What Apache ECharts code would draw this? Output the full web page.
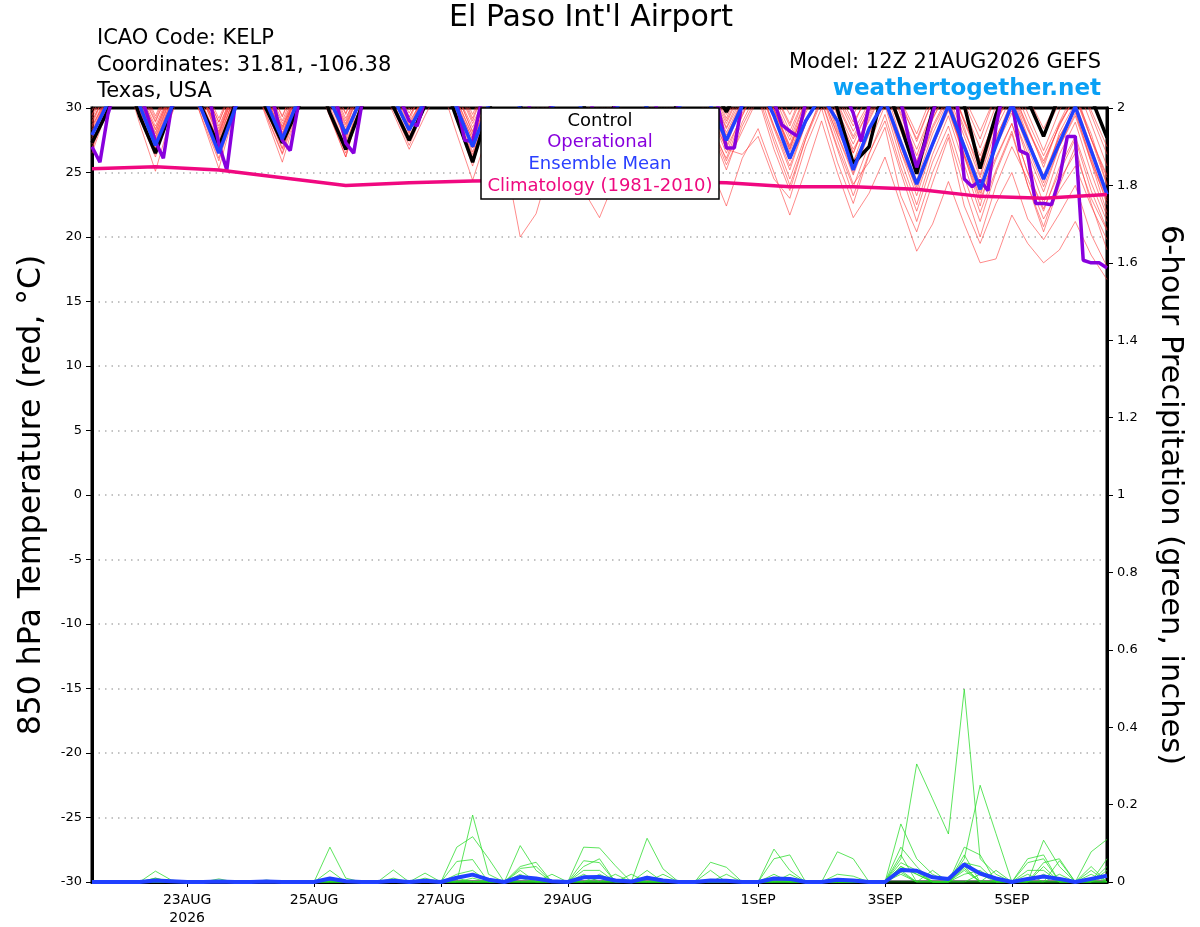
<!DOCTYPE html>
<html><head><meta charset="utf-8">
<script src="https://cdn.jsdelivr.net/npm/echarts@6/dist/echarts.min.js"></script>
<style>html,body{margin:0;padding:0;background:#fff}#c{width:1200px;height:927px}</style>
</head><body><div id="c"></div>
<script>
// ---------- axis ticks ----------
const tickHours = [48, 96, 144, 192, 264, 312, 360];            // hours after 00Z 21AUG2026
const tickLabels = ['23AUG\n2026', '25AUG', '27AUG', '29AUG', '1SEP', '3SEP', '5SEP'];

// valid times (hours after 00Z 21AUG2026): 12Z 21AUG .. 12Z 6SEP
const hours6 = []; for (let h = 12; h <= 396; h += 6) hours6.push(h);
const hours3 = []; for (let h = 12; h <= 396; h += 3) hours3.push(h);
const climHours = []; for (let h = 12; h <= 396; h += 24) climHours.push(h);

// ---------- 850 hPa temperature, ensemble members (6-hourly, deg C) ----------
const member01 = [28.5, 31.2,33.5,30.4,27.8, 31.0,33.8,30.8,28.2, 31.5,34.0,31.0,28.6, 31.2,33.6,30.5,27.5, 31.6,34.2,31.2,28.9, 31.0,33.4,30.6,27.8, 31.4,33.9,30.9,28.4, 31.1,33.5,30.6,28.0, 30.9,33.2,30.3,27.6, 30.6,33.0,30.1,27.0, 30.4,32.8,29.9,26.8, 30.2,32.5,29.6,26.5, 29.6,32.0,29.0,25.6, 29.2,31.5,28.5,24.8, 29.0,31.4,28.6,25.4, 28.8,30.9,28.0,24.1];
const member02 = [29.2, 31.8,34.1,31.2,28.6, 31.5,33.6,30.2,27.4, 31.0,33.7,30.9,27.9, 31.6,34.0,31.4,28.8, 32.0,34.5,31.6,29.3, 31.8,34.0,31.1,28.5, 31.2,33.4,30.4,27.6, 31.3,33.8,31.0,28.8, 31.4,33.6,30.7,28.2, 31.2,33.5,31.0,28.4, 30.8,33.2,30.2,27.5, 30.6,32.9,29.8,27.2, 30.0,32.5,29.4,26.3, 29.8,32.1,29.1,25.9, 29.0,31.2,27.8,24.2, 28.1,30.4,27.0,23.5];
const member03 = [27.6, 30.6,33.0,29.9,26.9, 30.4,32.8,29.6,26.5, 30.2,33.1,30.0,27.2, 30.6,33.2,30.1,27.0, 31.0,33.6,30.8,28.1, 30.8,33.1,30.2,26.9, 30.9,33.4,30.6,27.9, 31.0,33.3,30.4,27.5, 31.2,33.6,30.9,28.6, 30.5,32.6,29.4,26.5, 29.6,31.8,28.4,25.2, 28.8,31.2,27.9,24.8, 28.0,30.6,27.0,23.6, 27.2,30.0,26.3,22.4, 27.0,29.6,26.5,23.5, 27.0,29.4,25.8,22.8];
const member04 = [29.8, 32.2,34.6,31.8,29.2, 32.0,34.5,31.6,28.9, 32.1,34.8,32.0,29.3, 32.4,35.0,32.2,29.5, 32.6,35.1,32.3,29.9, 32.5,34.8,32.0,29.2, 32.3,34.9,32.2,29.5, 32.5,35.0,32.3,29.4, 32.4,34.8,32.1,29.8, 32.2,34.6,31.9,29.2, 32.1,34.5,31.8,29.5, 31.9,34.0,31.0,28.6, 31.4,33.6,30.5,27.4, 30.6,33.0,29.9,26.9, 30.2,32.6,29.6,26.7, 29.8,32.0,28.8,25.5];
const member05 = [26.8, 30.2,32.9,28.8,25.1, 29.4,32.6,28.9,25.3, 29.8,32.8,29.2,25.8, 29.9,32.9,29.4,26.2, 30.4,33.2,30.0,27.4, 30.3,32.8,29.1,25.5, 29.8,32.6,29.6,26.5, 30.2,32.9,29.9,27.0, 30.0,32.4,29.1,26.2, 29.4,31.9,28.4,25.2, 28.6,31.0,27.4,24.0, 27.6,30.5,26.8,23.2, 26.5,29.0,25.0,21.2, 25.0,28.0,23.8,20.0, 24.0,27.0,24.5,21.4, 23.6,25.5,22.4,19.8];
const member06 = [28.1, 31.0,33.6,30.6,28.0, 31.2,33.7,30.6,27.8, 30.8,33.2,29.8,26.9, 30.7,33.5,30.8,27.9, 31.3,33.8,30.9,28.4, 31.0,33.3,30.2,27.2, 31.2,33.9,31.0,28.8, 31.6,33.9,31.2,28.5, 31.0,33.4,30.6,27.9, 30.9,33.3,30.5,27.9, 30.3,32.4,29.2,26.2, 29.8,32.1,29.0,25.8, 29.2,31.6,28.4,24.9, 28.4,30.8,27.2,23.6, 27.5,29.8,26.0,22.6, 26.4,28.9,25.0,21.6];
const member07 = [27.2, 30.4,33.0,29.6,26.4, 30.0,32.7,29.3,26.1, 30.3,33.1,30.6,27.8, 30.9,33.2,29.8,26.5, 30.2,32.8,29.9,27.1, 30.0,32.6,29.4,26.2, 30.1,32.8,30.0,27.2, 30.3,32.7,29.7,26.4, 30.1,32.9,30.2,27.2, 30.4,32.6,29.8,26.8, 26.4,27.8,24.5,23.0, 27.0,30.0,25.8,22.6, 26.4,29.5,25.4,22.0, 25.8,28.6,24.6,21.2, 25.0,28.0,24.0,20.8, 24.4,26.5,23.0,20.5];
const member08 = [28.9, 31.6,34.0,31.2,28.3, 31.4,34.1,31.4,28.6, 31.4,33.8,30.7,28.1, 31.2,33.9,31.0,28.3, 31.9,34.5,31.9,29.6, 32.0,34.2,31.1,28.1, 31.7,34.3,31.6,29.1, 32.0,34.4,31.7,29.2, 31.9,34.2,31.4,28.9, 31.8,34.0,31.3,28.8, 31.5,33.7,30.9,28.2, 31.0,33.4,30.4,27.8, 30.2,32.4,28.6,25.6, 29.1,31.6,28.2,25.4, 28.9,31.2,28.3,25.7, 28.7,30.8,27.6,24.8];
const member09 = [26.5, 30.0,32.8,30.0,27.2, 30.6,33.0,30.1,27.0, 30.2,32.6,29.5,26.5, 30.4,33.0,30.4,27.4, 30.2,32.4,29.6,26.8, 29.4,31.8,28.0,24.4, 28.2,26.5,20.0,21.8, 26.0,29.4,27.8,25.0, 29.2,31.6,29.6,26.6, 28.9,29.8,25.4,22.4, 26.1,28.4,25.0,21.7, 25.2,29.0,25.0,21.5, 23.4,26.2,22.5,18.9, 21.0,24.3,21.0,18.0, 18.3,21.7,19.5,18.0, 19.0,21.2,18.6,16.7];
const member10 = [28.3, 31.2,33.8,30.6,27.5, 30.9,33.4,30.8,27.9, 31.3,33.9,31.0,28.3, 31.5,34.0,31.2,28.7, 31.6,34.1,31.2,28.7, 31.2,33.6,30.4,27.5, 31.0,33.5,30.6,28.1, 30.5,29.0,23.6,21.5, 24.5,28.0,26.4,25.8, 29.1,31.5,28.4,26.1, 29.4,32.0,28.6,25.5, 28.8,31.0,28.0,25.0, 28.2,30.6,27.4,24.2, 27.0,29.8,26.2,22.9, 26.0,28.8,25.0,22.0, 25.4,27.8,24.2,21.2];
const member11 = [29.5, 32.0,34.4,31.5,29.0, 31.8,34.2,31.2,28.4, 31.6,34.3,31.6,29.0, 32.0,34.4,31.6,29.0, 32.1,34.5,31.6,29.0, 32.0,34.5,31.8,29.0, 32.2,34.7,32.0,29.7, 32.4,34.8,32.1,29.6, 32.2,34.6,31.8,29.3, 32.0,34.5,31.9,29.5, 31.8,34.2,31.3,28.8, 31.9,34.3,31.8,29.5, 31.6,33.8,30.6,28.0, 31.1,33.6,30.8,28.2, 31.0,33.4,30.4,27.9, 30.4,32.8,29.5,26.4];
const member12 = [27.9, 30.8,33.4,30.4,27.4, 30.6,33.1,30.1,27.1, 30.7,33.3,30.4,27.5, 30.9,33.5,30.6,27.7, 31.2,33.7,30.8,28.2, 30.6,32.9,29.6,26.6, 30.1,32.7,29.8,26.8, 30.6,33.2,30.9,27.9, 30.8,33.0,30.0,27.1, 30.6,33.1,30.3,27.4, 30.4,32.8,29.8,26.8, 30.2,32.6,29.6,26.8, 29.0,31.6,27.6,24.4, 28.0,30.6,27.2,24.2, 27.8,30.2,26.9,23.9, 27.0,29.6,26.0,23.0];
const member13 = [28.7, 31.6,34.0,31.4,28.9, 31.8,34.2,31.6,28.9, 31.8,34.1,31.4,28.8, 31.6,34.0,31.2,28.5, 31.8,34.3,31.7,29.3, 31.6,34.0,31.0,28.2, 31.5,34.0,31.1,28.6, 31.6,34.0,31.2,28.5, 31.4,33.9,31.2,28.4, 31.5,34.0,31.3,28.5, 31.2,33.6,30.6,27.8, 31.0,33.5,30.8,28.2, 30.4,32.8,29.6,26.8, 29.8,32.2,28.9,25.9, 29.6,32.0,29.0,26.3, 28.9,31.4,27.6,24.0];
const member14 = [27.4, 30.2,32.6,29.2,26.2, 30.0,32.8,29.9,26.7, 30.0,32.5,29.4,26.4, 29.9,32.4,29.3,26.2, 30.6,33.2,30.4,27.8, 30.2,32.4,29.0,25.8, 30.0,32.9,30.2,27.5, 30.4,32.6,29.8,26.9, 30.0,32.6,29.5,26.4, 29.6,32.1,29.0,25.9, 28.9,31.4,27.8,24.5, 27.9,30.6,27.0,23.9, 27.2,30.2,26.0,22.5, 26.4,29.4,25.6,21.9, 25.2,28.2,24.0,20.4, 24.0,27.0,22.6,19.0];
const member15 = [29.0, 31.4,33.8,30.8,28.1, 31.2,33.8,30.9,28.1, 31.4,34.0,31.2,28.5, 31.8,34.4,31.8,29.2, 31.8,34.0,31.0,28.5, 31.2,33.6,30.6,27.9, 31.4,34.0,31.5,28.9, 31.6,33.9,31.0,28.2, 31.6,34.1,31.7,29.0, 31.2,33.4,30.3,27.7, 30.6,33.0,29.9,27.0, 30.1,32.6,29.4,26.5, 29.4,31.8,28.2,25.1, 28.6,31.0,27.8,24.6, 28.4,30.9,27.6,24.8, 27.8,30.0,26.2,22.5];
const member16 = [28.0, 31.0,33.5,30.6,27.7, 30.9,33.4,30.6,27.6, 31.0,33.6,30.8,27.9, 31.2,33.8,31.0,28.2, 31.2,33.6,30.8,28.0, 31.5,34.0,31.6,28.8, 31.2,33.5,30.5,27.6, 30.8,33.2,30.3,27.4, 31.0,33.6,30.9,28.0, 31.1,33.6,30.9,28.1, 30.6,32.8,29.6,26.6, 29.6,32.0,28.4,25.4, 28.4,30.8,26.6,23.2, 27.0,30.0,26.4,23.1, 27.6,30.6,27.6,24.5, 27.8,29.8,25.8,21.9];
const member17 = [26.9, 30.2,32.8,29.8,26.6, 29.8,32.4,29.0,25.9, 29.9,32.8,29.8,26.8, 30.2,32.8,29.9,26.9, 30.4,33.0,30.2,27.6, 30.2,32.6,29.4,26.4, 29.8,32.3,29.3,26.2, 29.6,32.2,29.2,26.1, 30.0,32.6,29.8,26.9, 29.6,31.8,28.6,25.6, 28.2,30.8,26.8,23.6, 27.6,31.0,27.5,24.1, 25.8,28.5,23.2,20.4, 24.2,27.7,22.4,19.5, 22.6,25.0,21.4,19.8, 21.8,24.0,20.2,17.7];
const member18 = [29.4, 32.2,34.7,32.0,29.4, 32.1,34.6,31.8,29.2, 32.0,34.6,31.9,29.4, 32.2,34.8,32.1,29.6, 32.6,35.2,32.6,30.2, 32.6,35.0,32.2,29.5, 32.4,35.0,32.3,29.8, 32.6,35.1,32.4,29.8, 32.4,34.9,32.0,29.5, 32.0,34.5,31.6,29.0, 31.6,34.0,31.2,28.6, 31.6,34.2,31.4,28.9, 31.0,33.4,30.2,27.6, 30.6,33.2,30.4,27.6, 31.0,33.6,30.9,28.4, 30.8,33.0,29.8,27.0];
const member19 = [28.6, 30.8,33.2,29.8,27.1, 30.4,33.0,30.1,27.3, 30.6,33.2,30.4,27.7, 30.9,33.4,30.6,27.9, 31.2,33.8,30.8,28.6, 30.6,32.9,29.8,26.9, 30.4,33.0,30.2,27.4, 30.9,33.4,30.8,28.3, 30.8,33.1,30.2,27.6, 30.2,32.6,29.4,26.9, 29.4,31.9,28.6,25.9, 29.0,31.6,28.2,25.9, 28.0,30.4,26.6,23.9, 27.4,30.1,26.4,23.4, 26.2,28.8,25.0,22.2, 25.0,27.6,23.6,20.6];
const member20 = [27.8, 31.0,33.6,30.9,28.4, 31.2,33.5,30.8,28.0, 31.2,33.8,31.0,28.4, 31.2,33.6,30.8,28.0, 30.6,33.0,30.2,27.5, 30.6,33.1,30.2,27.6, 30.4,32.8,29.9,27.0, 30.4,32.9,30.1,27.3, 30.8,33.4,30.8,28.3, 30.9,33.2,30.4,27.5, 30.5,32.8,29.9,27.1, 30.6,33.1,30.2,27.6, 29.8,32.2,28.8,25.9, 29.4,32.0,29.0,26.3, 29.2,31.6,28.4,25.9, 28.6,31.0,27.6,24.6];
const members = [member01, member02, member03, member04, member05, member06, member07, member08, member09, member10,
                 member11, member12, member13, member14, member15, member16, member17, member18, member19, member20];

// control run (6-hourly)
const controlTemp = [27.3, 29.8,33.0,29.4,26.5, 29.9,33.2,29.8,27.0, 30.2,33.0,29.9,27.3, 30.0,33.0,29.6,26.8, 30.1,33.2,30.1,27.5, 30.2,32.6,29.2,25.8, 29.8,32.8,30.2,27.0, 30.4,33.0,30.2,27.5, 30.4,33.0,30.0,27.2, 30.8,33.5,31.8,29.7, 32.0,34.0,32.0,30.5, 32.6,33.4,29.9,25.7, 27.0,32.0,28.6,24.9, 29.8,32.4,30.2,25.3, 29.5,32.6,30.6,27.8, 31.0,33.2,30.8,27.7];
// ensemble mean (6-hourly)
const meanTemp = [27.9, 30.4,32.6,30.2,27.1, 30.0,32.4,29.6,26.5, 29.9,32.6,30.4,27.6, 30.6,32.8,30.6,28.0, 30.8,33.0,30.8,28.3, 30.6,32.6,30.0,27.0, 30.2,32.4,30.0,27.2, 30.0,32.2,29.6,26.8, 29.8,32.2,30.0,27.2, 30.0,32.2,30.2,27.5, 30.2,32.0,29.4,26.1, 29.0,31.0,29.0,25.2, 28.4,30.6,27.3,24.1, 27.2,30.2,27.0,23.7, 27.1,30.3,27.4,24.5, 27.3,30.1,26.7,23.3];
// operational run (3-hourly)
const operationalTemp = [
  27.0, 25.8, 29.5, 31.6, 33.2, 32.8, 31.2, 29.4,
  27.4, 26.1, 30.0, 31.8, 33.4, 33.0, 31.4, 30.2,
  27.2, 25.2, 30.0, 32.0, 33.6, 33.2, 31.6, 30.1,
  27.5, 26.7, 30.2, 32.0, 33.5, 33.0, 31.5, 30.0,
  27.3, 26.5, 30.2, 32.2, 33.8, 33.2, 31.6, 30.5,
  29.0, 28.6, 30.6, 32.4, 33.8, 33.2, 30.4, 27.5,
  27.4, 30.2, 31.8, 33.0, 33.6, 33.0, 31.6, 30.5,
  27.8, 27.6, 30.5, 32.2, 33.6, 33.2, 31.5, 30.3,
  27.5, 27.4, 30.4, 32.0, 33.4, 33.0, 31.6, 30.5,
  27.9, 27.6, 30.6, 32.2, 33.6, 33.0, 31.8, 30.0,
  26.9, 26.9, 30.5, 32.2, 33.4, 32.8, 30.5, 28.7,
  28.2, 27.8, 30.4, 32.0, 33.2, 32.6, 31.6, 31.0,
  29.6, 27.4, 30.2, 32.0, 33.4, 32.8, 30.5, 27.6,
  25.4, 27.2, 29.6, 31.5, 33.0, 31.0, 24.5, 23.9,
  24.4, 23.6, 28.6, 31.5, 30.6, 26.7, 26.4, 22.6,
  22.6, 22.5, 24.5, 27.8, 27.8, 18.2, 18.0, 18.0,
  17.6];
// climatology 1981-2010 (daily, 12Z)
const climatologyTemp = [25.3, 25.45, 25.2, 24.6, 24.0, 24.2, 24.35, 24.4, 24.35, 24.3, 24.2, 23.9, 23.9, 23.7, 23.15, 23.0, 23.3];

// ---------- 6-hour precipitation (inches), 6-hourly ----------
const precip01 = [0, 0,0,0,0.028, 0.005,0,0,0, 0,0,0,0, 0,0,0,0, 0,0,0,0, 0,0,0,0.173, 0.02,0,0,0, 0,0,0,0, 0,0,0,0, 0,0,0,0, 0,0,0,0, 0,0,0,0, 0,0,0.06,0.305, 0.215,0.124,0.498,0.06, 0.02,0,0,0, 0,0,0,0];
const precip02 = [0, 0,0,0,0, 0,0,0,0, 0,0,0,0, 0,0,0.09,0.01, 0,0,0,0, 0,0,0.09,0.117, 0.061,0,0,0, 0,0,0,0, 0,0,0,0, 0,0,0,0, 0,0,0.085,0.03, 0,0,0,0, 0,0,0,0, 0,0,0.06,0.25, 0.125,0,0,0, 0,0,0,0];
const precip03 = [0, 0,0,0,0, 0,0,0,0, 0,0,0,0, 0,0,0.03,0, 0,0,0.031,0, 0,0,0.053,0.058, 0,0,0.094,0.03, 0,0,0,0, 0,0,0.113,0.034, 0,0,0,0, 0,0,0,0, 0,0,0,0, 0,0,0.15,0.06, 0.02,0,0,0, 0,0,0,0.108, 0.04,0,0,0];
const precip04 = [0, 0,0,0,0, 0,0,0,0, 0,0,0,0, 0,0,0,0, 0,0,0,0, 0.023,0,0,0, 0,0,0.04,0.051, 0,0,0.09,0.088, 0.042,0,0,0, 0,0,0,0, 0,0,0,0, 0,0,0.078,0.06, 0,0,0.09,0.04, 0,0,0,0, 0,0,0.06,0.07, 0,0,0.078,0.11];
const precip05 = [0, 0,0,0,0.01, 0,0,0,0, 0,0,0,0, 0,0,0.01,0, 0,0,0,0, 0,0,0,0, 0,0,0.03,0, 0,0,0.055,0.05, 0,0,0,0, 0,0,0.051,0.038, 0,0,0.06,0.07, 0,0,0,0, 0,0,0.07,0, 0,0,0.09,0.07, 0,0,0,0, 0.055,0,0,0.06];
const precip06 = [0, 0,0,0,0, 0,0,0,0.008, 0,0,0,0, 0,0,0,0, 0,0,0,0, 0.01,0,0,0, 0,0,0.035,0.04, 0,0,0.04,0.06, 0,0.02,0,0, 0,0,0.03,0, 0,0,0,0, 0,0,0,0, 0,0,0.05,0.03, 0,0,0.07,0, 0,0,0.05,0.06, 0,0,0.04,0];
const precip07 = [0, 0,0,0,0, 0,0,0,0, 0,0,0,0, 0,0,0,0, 0,0,0.01,0, 0,0,0.01,0, 0,0,0,0, 0,0,0.03,0.03, 0,0,0.03,0, 0,0,0,0.02, 0,0,0.02,0, 0,0,0,0, 0,0,0.04,0.02, 0,0,0.05,0.04, 0,0,0,0.05, 0.06,0,0,0.03];
const precip08 = [0, 0,0,0,0.01, 0,0,0,0, 0,0,0.005,0, 0,0,0,0, 0,0,0,0, 0,0,0,0, 0,0,0.02,0, 0.02,0,0,0, 0.02,0,0,0, 0,0,0,0, 0,0,0,0, 0,0,0.02,0.015, 0,0,0.03,0, 0.03,0,0.03,0, 0,0,0.03,0.03, 0,0,0.03,0];
const precip09 = [0, 0,0,0,0, 0,0,0,0, 0,0,0,0, 0,0,0,0, 0,0,0,0, 0,0,0.02,0.03, 0,0,0,0, 0,0,0,0.02, 0,0,0,0.02, 0,0,0,0, 0,0,0,0.02, 0,0,0,0, 0,0,0.02,0, 0,0,0.04,0, 0.03,0,0,0, 0.02,0,0,0.04];
const precip10 = [0, 0,0,0,0, 0,0,0,0, 0,0,0,0, 0,0,0.005,0, 0,0,0,0, 0,0,0,0, 0,0,0.01,0, 0,0,0.02,0, 0,0,0.015,0, 0,0,0,0, 0,0,0,0, 0,0,0,0, 0,0,0.04,0.02, 0,0,0.02,0.03, 0,0,0,0.04, 0,0,0.02,0];
const precip11 = [0, 0,0,0,0, 0,0,0,0, 0,0,0,0, 0,0,0,0, 0,0,0,0, 0,0,0,0.01, 0,0,0,0, 0,0,0,0.01, 0,0,0,0, 0,0,0,0, 0,0,0.01,0, 0,0,0,0, 0,0,0.025,0, 0,0,0.035,0, 0,0,0.02,0, 0,0,0,0.015];
const precip12 = [0, 0,0,0,0, 0,0,0,0, 0,0,0,0, 0,0,0,0, 0,0,0,0, 0,0,0,0, 0,0,0,0, 0,0,0,0, 0,0,0,0, 0,0,0,0, 0,0,0,0, 0,0,0,0, 0,0,0.035,0.025, 0,0,0,0.02, 0,0,0,0.02, 0,0,0,0];
const precipMembers = [precip01, precip02, precip03, precip04, precip05, precip06, precip07, precip08, precip09, precip10, precip11, precip12];
const precipMean = [0, 0,0,0,0.004, 0.002,0,0,0.001, 0,0,0.001,0, 0,0,0.009,0.002, 0,0,0.003,0, 0.003,0,0.011,0.019, 0.006,0,0.013,0.009, 0.002,0,0.012,0.013, 0.004,0.001,0.011,0.004, 0,0,0.004,0.003, 0,0,0.009,0.008, 0,0,0.006,0.004, 0,0,0.031,0.029, 0.012,0.008,0.045,0.022, 0.009,0,0.008,0.014, 0.008,0,0.008,0.016];

// ---------- build chart ----------
const FONT = '"DejaVu Sans", Verdana, sans-serif';
const pair = (hs, vs) => hs.map((h, i) => [h, vs[i]]);

const series = [];
members.forEach((m, i) => series.push({
  name: 'member' + (i + 1), type: 'line', data: pair(hours6, m), yAxisIndex: 0,
  showSymbol: false, silent: true, z: 2,
  lineStyle: { color: 'rgba(255,60,60,0.75)', width: 0.8 }
}));
precipMembers.forEach((p, i) => series.push({
  name: 'precip' + (i + 1), type: 'line', data: pair(hours6, p), yAxisIndex: 1,
  showSymbol: false, silent: true, z: 2,
  lineStyle: { color: 'rgba(40,220,40,0.95)', width: 0.8 }
}));
series.push({ name: 'Control', type: 'line', data: pair(hours6, controlTemp), yAxisIndex: 0,
  showSymbol: false, z: 4, lineStyle: { color: '#000', width: 3.5 } });
series.push({ name: 'Operational', type: 'line', data: pair(hours3, operationalTemp), yAxisIndex: 0,
  showSymbol: false, z: 5, lineStyle: { color: '#8800dd', width: 3.5 } });
series.push({ name: 'Ensemble Mean', type: 'line', data: pair(hours6, meanTemp), yAxisIndex: 0,
  showSymbol: false, z: 6, lineStyle: { color: '#2040ff', width: 3.5 } });
series.push({ name: 'Climatology', type: 'line', data: pair(climHours, climatologyTemp), yAxisIndex: 0,
  showSymbol: false, z: 7, lineStyle: { color: '#f00880', width: 3.5 } });
series.push({ name: 'Precip Mean', type: 'line', data: pair(hours6, precipMean), yAxisIndex: 1,
  showSymbol: false, z: 7, lineStyle: { color: '#2040ff', width: 4 } });

const legendItems = [
  ['Control', '#000000', 121],
  ['Operational', '#8800dd', 142],
  ['Ensemble Mean', '#2a40ff', 164],
  ['Climatology (1981-2010)', '#ee0a80', 186]
];
const txt = (t, x, y, size, color, align, weight) => ({
  type: 'text', z: 101, silent: true,
  style: { text: t, x: x, y: y, fill: color, font: (weight || 'normal') + ' ' + size + 'px ' + FONT,
           textAlign: align, textVerticalAlign: 'middle', align: align, verticalAlign: 'middle' }
});
const graphic = [
  txt("El Paso Int'l Airport", 591, 18, 30, '#000', 'center'),
  txt('ICAO Code: KELP', 97, 39, 21, '#000', 'left'),
  txt('Coordinates: 31.81, -106.38', 97, 66, 21, '#000', 'left'),
  txt('Texas, USA', 97, 92, 21, '#000', 'left'),
  txt('Model: 12Z 21AUG2026 GEFS', 1101, 63, 21, '#000', 'right'),
  txt('weathertogether.net', 1101, 89, 23, '#0aa0f5', 'right', 'bold'),
  { type: 'rect', z: 100, silent: true, shape: { x: 481, y: 108, width: 238, height: 91 },
    style: { fill: '#fff', stroke: '#000', lineWidth: 1.5 } }
].concat(legendItems.map(l => txt(l[0], 600, l[2], 18, l[1], 'center')));

const option = {
  animation: false,
  backgroundColor: '#fff',
  grid: { left: 92, right: 93, top: 108, bottom: 44, show: true, borderColor: '#000', borderWidth: 3, backgroundColor: 'transparent' },
  xAxis: {
    type: 'value', min: 12, max: 396,
    axisLine: { show: true, onZero: false, lineStyle: { color: '#000', width: 3 } },
    axisTick: { show: true, customValues: tickHours, length: 5, lineStyle: { color: '#000', width: 1 } },
    axisLabel: { customValues: tickHours, color: '#000', fontSize: 14, fontFamily: FONT, margin: 9, lineHeight: 18,
      formatter: v => { const i = tickHours.indexOf(v); return i >= 0 ? tickLabels[i] : ''; } },
    splitLine: { show: false }
  },
  yAxis: [
    { type: 'value', min: -30, max: 30, interval: 5, position: 'left',
      name: '850 hPa Temperature (red, °C)', nameLocation: 'middle', nameGap: 44, nameRotate: 90,
      nameTextStyle: { fontSize: 31.5, color: '#000', fontFamily: FONT },
      axisLine: { show: true, lineStyle: { color: '#000', width: 3 } },
      axisTick: { show: true, length: 6, lineStyle: { color: '#000', width: 1 } },
      axisLabel: { color: '#000', fontSize: 13, fontFamily: FONT, margin: 10 },
      splitLine: { show: true, showMinLine: false, showMaxLine: false,
        lineStyle: { color: '#b0b0b0', width: 1.5, type: [1.5, 5] } } },
    { type: 'value', min: 0, max: 2, interval: 0.2, position: 'right',
      name: '6-hour Precipitation (green, inches)', nameLocation: 'middle', nameGap: 47, nameRotate: -90,
      nameTextStyle: { fontSize: 30.5, color: '#000', fontFamily: FONT },
      axisLine: { show: true, lineStyle: { color: '#000', width: 3 } },
      axisTick: { show: true, length: 6, lineStyle: { color: '#000', width: 1 } },
      axisLabel: { color: '#000', fontSize: 13, fontFamily: FONT, margin: 10,
        formatter: v => String(Math.round(v * 10) / 10) },
      splitLine: { show: false } }
  ],
  graphic: graphic,
  series: series
};
const chart = echarts.init(document.getElementById('c'), null, { renderer: 'canvas' });
chart.setOption(option);
</script></body></html>
